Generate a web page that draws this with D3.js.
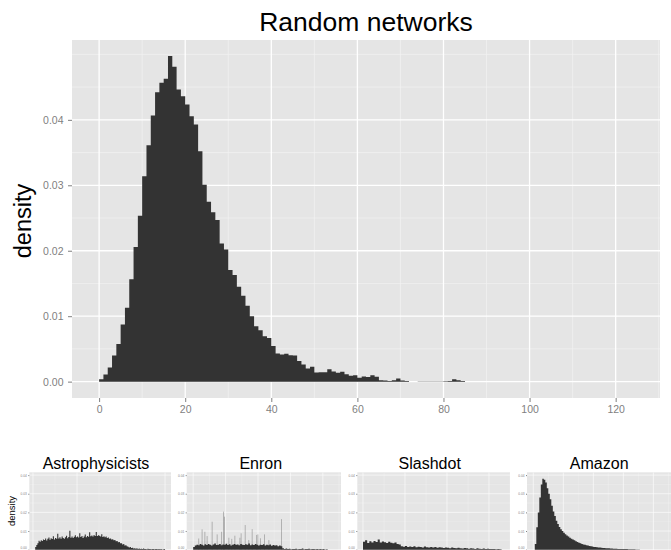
<!DOCTYPE html>
<html><head><meta charset="utf-8">
<script src="https://cdn.jsdelivr.net/npm/d3@7"></script>
<style>
body{margin:0;background:#fff}
svg{display:block}
text{font-family:"Liberation Sans",Arial,Helvetica,sans-serif}
</style>
</head><body><svg id="c" width="671" height="550"></svg>
<script>
// ---------- DATA ----------
const mainTitle = "Random networks";
const yLabel = "density";
const mainBinStart = 0, mainBinWidth = 1;
const mainDensity = [
  .00036,.00108,.00215,.0040,.00574,.00872,.01128,.01564,.02056,.02536,
  .03138,.03612,.04066,.04423,.04566,.04628,.04974,.04811,.04464,.04362,
  .04235,.04056,.03929,.0352,.0301,.0275,.02587,.0247,.02112,.0202,
  .01704,.01628,.01449,.01311,.01158,.0100,.00847,.00786,.00694,.00668,
  .00546,.00429,.00413,.00425,.00405,.00398,.00317,.00261,.0020,.00226,
  .0014,.00145,.00145,.0019,.00155,.00135,.0015,.00114,.00089,.00099,
  .00058,.00079,.00069,.00099,.00074,.00023,.00018,.00008,.00023,.00048,
  .00018,.00008,0,0,.00004,.00004,.00004,.00004,.00004,.00004,
  .00006,.00008,.00038,.00023,.0001
];
const mainXTicks = [0,20,40,60,80,100,120];
const mainXMinor = [10,30,50,70,90,110,130];
const mainYTicks = [0,0.01,0.02,0.03,0.04];
const mainYMinor = [0.005,0.015,0.025,0.035,0.045,0.05];

const panelTitles = ["Astrophysicists","Enron","Slashdot","Amazon"];
const smallYTicks = [0,0.01,0.02,0.03,0.04];

// Astrophysicists: bins of width 0.5 starting at 1
const astroBinStart = 1, astroBinWidth = 0.5;
const astroDensity = [
  .0015,.0025,.0035,.0048,.0042,.0050,.0046,.0055,
  .0052,.0060,.0049,.0058,.0065,.0053,.0061,.0057,.0072,.0055,
  .0063,.0058,.0085,.0060,.0066,.0059,.0070,.0062,.0058,.0067,
  .0075,.0061,.0068,.0102,.0064,.0070,.0063,.0069,.0078,.0066,
  .0071,.0065,.0088,.0068,.0073,.0062,.0070,.0081,.0067,.0074,
  .0069,.0093,.0072,.0076,.0070,.0079,.0074,.0095,.0073,.0078,
  .0075,.0071,.0083,.0068,.0072,.0066,.0070,.0062,.0065,.0058,
  .0060,.0054,.0056,.0050,.0052,.0045,.0047,.0040,.0041,.0034,
  .0035,.0028,.0030,.0022,.0024,.0018,.0016,.0012,.0014,.0009,
  .0010,.0006,.0008,.0005,.0007,.0004,.0006,.0003,.0005,.0004,
  .0006,.0003,.0004,.0002,.0005,.0003,.0004,.0002,.0003,.0004,
  .0002,.0004,.0003,.0002,.0004,.0002,.0003,.0001,.0002,.0003
];
// Enron: bins of width 1 starting at 0, plus light spikes
const enronBinStart = 0, enronBinWidth = 1;
const enronDensity = [
  .0015,.0022,.0026,.0024,.0030,.0027,.0023,.0029,.0025,.0031,
  .0026,.0022,.0028,.0033,.0025,.0027,.0030,.0024,.0028,.0026,
  .0032,.0025,.0029,.0023,.0027,.0031,.0026,.0028,.0024,.0030,
  .0027,.0025,.0029,.0026,.0033,.0024,.0028,.0025,.0030,.0026,
  .0023,.0027,.0025,.0029,.0022,.0026,.0024,.0028,.0021,.0025,
  .0022,.0024,.0019,.0022,.0018,
  .0008,.0004,.0006,.0003,.0005,.0002,.0004,.0003,.0005,.0002,
  .0004,.0003,.0006,.0002,.0004,.0003,.0005,.0002,.0003,.0004,
  .0002,.0003,.0002,.0004,.0002,.0003,.0001,.0002
];
const enronSpikeX = [5.2,6.9,8.3,11.4,14.5,17.2,18.4,19.0,21.7,25.4,28.5,29.3,31.8,34.0,36.1,38.8,39.6,43.7,46.4,54.2,3.1,23.5,41.2];
const enronSpikeY = [.0109,.0096,.0073,.0150,.0082,.0096,.0204,.0177,.0064,.0075,.0064,.0088,.0132,.0052,.0110,.0079,.0082,.0082,.0052,.0164,.0060,.0058,.0061];
// Slashdot: bins of width 1 starting at 0
const slashBinStart = 0, slashBinWidth = 1;
const slashdotDensity = [
  .0042,.0050,.0036,.0045,.0039,.0047,.0041,.0055,.0038,.0044,
  .0040,.0036,.0043,.0037,.0034,.0039,.0031,.0028,
  .0018,.0016,.0020,.0015,.0017,.0014,.0019,.0013,.0016,.0015,
  .0012,.0017,.0013,.0011,.0015,.0012,.0014,.0010,.0013,.0011,
  .0009,.0012,.0010,.0008,.0011,.0009,.0007,.0010,.0008,.0006,
  .0009,.0007,.0005,.0008,.0006,.0004,.0007,.0005,.0004,.0006,
  .0003,.0005,.0004,.0003,.0004,.0002,.0003,.0002
];
// Amazon: bins of width 0.5 starting at 0.5
const amazonBinStart = 0.5, amazonBinWidth = 0.5;
const amazonDensity = [
  .003,.012,.020,.028,.035,.038,.0375,.036,.033,.030,
  .027,.0235,.0205,.018,.0155,.0138,.0122,.011,.010,.0091,
  .0083,.0076,.0070,.0064,.0059,.0054,.0050,.0045,.0041,.0037,
  .0034,.0031,.0028,.0026,.0024,.0022,.0020,.0018,.0017,.0015,
  .0014,.0013,.0012,.0011,.0010,.0009,.0009,.0008,.0007,.0007,
  .0006,.0006,.0005,.0005,.0005,.0004,.0004,.0004,.0003,.0003,
  .0003,.0003,.0002,.0002,.0002,.0002,.0002,.0001,.0001,.0001
];

// ---------- DRAW ----------
const svg = d3.select("#c");
const BG = "#E5E5E5", MINOR = "#F2F2F2", GREY = "#7F7F7F", BAR = "#333333";

function bins(start, w, vals){
  const pts = vals.map((v,i)=>({x:start+i*w, y:v}));
  pts.push({x:start+vals.length*w, y:vals[vals.length-1]});
  return pts;
}

let clipN = 0;
function panel(g, x, y, opt){
  const [x0,x1] = x.range(), [yb,yt] = y.range();
  g.append("rect").attr("x",x0).attr("y",yt).attr("width",x1-x0).attr("height",yb-yt).attr("fill",BG);
  const clipId = "clip"+(clipN++);
  g.append("clipPath").attr("id",clipId).append("rect").attr("x",x0).attr("y",yt).attr("width",x1-x0).attr("height",yb-yt);
  const gg = g.append("g").attr("clip-path",`url(#${clipId})`);
  gg.selectAll(null).data(opt.yMinor).enter().append("line")
    .attr("x1",x0).attr("x2",x1).attr("y1",d=>y(d)).attr("y2",d=>y(d)).attr("stroke",MINOR).attr("stroke-width",opt.minorW);
  gg.selectAll(null).data(opt.xMinor).enter().append("line")
    .attr("y1",yt).attr("y2",yb).attr("x1",d=>x(d)).attr("x2",d=>x(d)).attr("stroke",MINOR).attr("stroke-width",opt.minorW);
  gg.selectAll(null).data(opt.yMajor).enter().append("line")
    .attr("x1",x0).attr("x2",x1).attr("y1",d=>y(d)).attr("y2",d=>y(d)).attr("stroke","#fff").attr("stroke-width",opt.majorW);
  gg.selectAll(null).data(opt.xMajor).enter().append("line")
    .attr("y1",yt).attr("y2",yb).attr("x1",d=>x(d)).attr("x2",d=>x(d)).attr("stroke","#fff").attr("stroke-width",opt.majorW);
  return gg;
}

function stepArea(x, y){
  return d3.area().curve(d3.curveStepAfter).x(d=>x(d.x)).y0(y(0)).y1(d=>y(d.y));
}

// Main panel
const mx = d3.scaleLinear().domain([-6.3,130.3]).range([72,660]);
const my = d3.scaleLinear().domain([-0.0025,0.0522]).range([398,40]);
const mg = svg.append("g");
const mgg = panel(mg, mx, my, {xMajor:mainXTicks, xMinor:mainXMinor, yMajor:mainYTicks, yMinor:mainYMinor, majorW:1.3, minorW:0.7});
mgg.append("path").datum(bins(mainBinStart, mainBinWidth, mainDensity))
  .attr("d", stepArea(mx,my)).attr("fill",BAR);

function styleAxis(a, fs){
  a.select(".domain").remove();
  a.selectAll(".tick line").attr("stroke",GREY);
  a.selectAll(".tick text").attr("fill",GREY).attr("font-size",fs).attr("font-family",'"Liberation Sans",Arial,sans-serif');
}
const yAx = mg.append("g").attr("transform","translate(72,0)")
  .call(d3.axisLeft(my).tickValues(mainYTicks).tickFormat(d3.format(".2f")).tickSize(4).tickPadding(4.5));
styleAxis(yAx, 10.5);
const xAx = mg.append("g").attr("transform","translate(0,398)")
  .call(d3.axisBottom(mx).tickValues(mainXTicks).tickFormat(d3.format("d")).tickSize(4).tickPadding(4));
styleAxis(xAx, 10.5);

svg.append("text").attr("x",366).attr("y",31).attr("text-anchor","middle").attr("font-size",26.5).attr("fill","#000").text(mainTitle);
svg.append("text").attr("transform","translate(31,221) rotate(-90)").attr("text-anchor","middle").attr("font-size",23.5).attr("fill","#000").text(yLabel);

// Small panels
const sy = d3.scaleLinear().domain([-0.002,0.0415]).range([553.4,472.3]);
const smallYMinor = [0.005,0.015,0.025,0.035];
const smallDefs = [
  {title:panelTitles[0], tx:96,  range:[29.3,171], domain:[-1.68,62.7], major:[0,20,40,60], minor:[10,30,50],
   data:bins(astroBinStart,astroBinWidth,astroDensity)},
  {title:panelTitles[1], tx:260.8, range:[186.7,341], domain:[-4.0,91.2], major:[0,20,40,60,80], minor:[10,30,50,70,90],
   data:bins(enronBinStart,enronBinWidth,enronDensity), spikes:true},
  {title:panelTitles[2], tx:429.7, range:[357.3,510], domain:[-2.71,70], major:[0,20,40,60], minor:[10,30,50,70],
   data:bins(slashBinStart,slashBinWidth,slashdotDensity)},
  {title:panelTitles[3], tx:599.2, range:[527,678], domain:[-2.1,48.2], major:[0,10,20,30,40], minor:[5,15,25,35,45],
   data:bins(amazonBinStart,amazonBinWidth,amazonDensity)}
];
smallDefs.forEach(p=>{
  const x = d3.scaleLinear().domain(p.domain).range(p.range);
  const g = svg.append("g");
  const gg = panel(g, x, sy, {xMajor:p.major, xMinor:p.minor, yMajor:smallYTicks, yMinor:smallYMinor, majorW:0.6, minorW:0.35});
  if(p.spikes){
    gg.selectAll(null).data(d3.zip(enronSpikeX, enronSpikeY)).enter().append("rect")
      .attr("x",d=>x(d[0])).attr("width",d=>Math.max(0.8, x(d[0]+0.6)-x(d[0])))
      .attr("y",d=>sy(d[1])).attr("height",d=>sy(0)-sy(d[1]))
      .attr("fill",BAR).attr("opacity",0.3);
  }
  gg.append("path").datum(p.data).attr("d", stepArea(x,sy)).attr("fill",BAR);
  const ax = g.append("g").attr("transform",`translate(${p.range[0]},0)`)
    .call(d3.axisLeft(sy).tickValues(smallYTicks).tickFormat(d3.format(".2f")).tickSize(1).tickPadding(1.5));
  styleAxis(ax, 3.2);
  // keep the bottom tick label inside the picture
  ax.selectAll(".tick text").filter(d=>d===0).attr("dy","-0.3em");
  svg.append("text").attr("x",p.tx).attr("y",469).attr("text-anchor","middle").attr("font-size",16).attr("fill","#000").text(p.title);
});
svg.append("text").attr("transform","translate(15,511) rotate(-90)").attr("text-anchor","middle").attr("font-size",9.5).attr("fill","#000").text(yLabel);
</script>
</body></html>
